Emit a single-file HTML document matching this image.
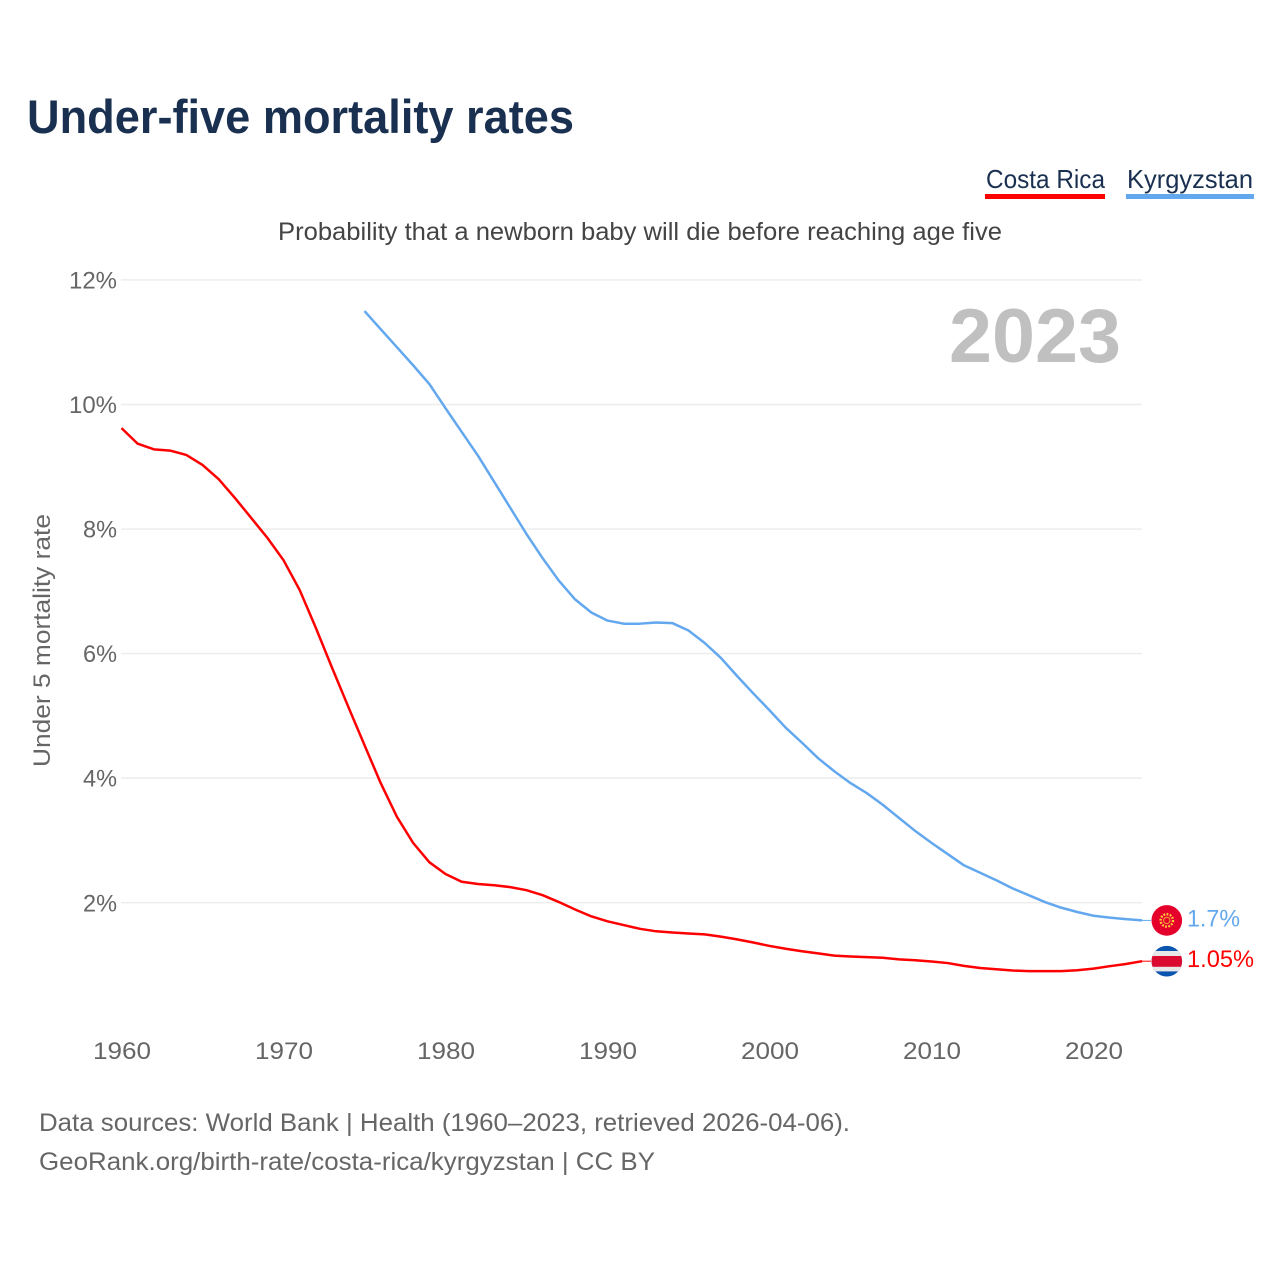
<!DOCTYPE html>
<html lang="en">
<head>
<meta charset="utf-8">
<title>Under-five mortality rates</title>
<style>
  html, body { margin: 0; padding: 0; background: #fff; }
  svg { display: block; font-family: "Liberation Sans", sans-serif; }
</style>
</head>
<body>
<svg id="chart" width="1280" height="1280" viewBox="0 0 1280 1280" xmlns="http://www.w3.org/2000/svg">
  <defs>
    <clipPath id="flag-clip"><circle cx="0" cy="0" r="15.3"></circle></clipPath>
  </defs>
  <rect width="1280" height="1280" fill="#ffffff"></rect>

  <text x="27" y="133" font-size="47" font-weight="700" fill="#1a3050" textLength="547" lengthAdjust="spacingAndGlyphs">Under-five mortality rates</text>

  <g>
    <text x="986" y="188" font-size="26" fill="#1a3050" textLength="119" lengthAdjust="spacingAndGlyphs">Costa Rica</text>
    <rect x="985" y="194" width="120" height="5" fill="#ff0000"></rect>
  </g>
  <g>
    <text x="1127" y="188" font-size="26" fill="#1a3050" textLength="126" lengthAdjust="spacingAndGlyphs">Kyrgyzstan</text>
    <rect x="1126" y="194" width="128" height="5" fill="#63a8ef"></rect>
  </g>

  <text x="278" y="240" font-size="25" fill="#444444" textLength="724" lengthAdjust="spacingAndGlyphs">Probability that a newborn baby will die before reaching age five</text>

  <text transform="translate(50,640.5) rotate(-90)" text-anchor="middle" font-size="24" fill="#666666" textLength="253" lengthAdjust="spacingAndGlyphs">Under 5 mortality rate</text>

  <g id="grid"></g>
  <g id="y-ticks"></g>
  <g id="x-ticks"></g>

  <text x="949" y="362" font-size="76" font-weight="700" fill="#c0c0c0" textLength="172" lengthAdjust="spacingAndGlyphs">2023</text>

  <path id="line-costa-rica" fill="none" stroke="#ff0000" stroke-width="2.5" stroke-linejoin="round"></path>
  <path id="line-kyrgyzstan" fill="none" stroke="#63a8ef" stroke-width="2.5" stroke-linejoin="round"></path>
  <line id="connector-costa-rica" stroke="#ff0000" stroke-width="1"></line>
  <line id="connector-kyrgyzstan" stroke="#63a8ef" stroke-width="1"></line>

  <g id="flag-kyrgyzstan">
    <circle r="15.3" fill="#e4002b"></circle>
    <circle r="6.2" fill="none" stroke="#ffcb3d" stroke-width="2.4" stroke-dasharray="1.8 1.4"></circle>
    <circle r="3.2" fill="none" stroke="#f4a63a" stroke-width="1"></circle>
  </g>
  <g id="flag-costa-rica">
    <g clip-path="url(#flag-clip)">
      <rect x="-16" y="-16" width="32" height="32" fill="#0a55b0"></rect>
      <rect x="-16" y="-10.2" width="32" height="20.4" fill="#e8e8e8"></rect>
      <rect x="-16" y="-5.2" width="32" height="10.8" fill="#da0a30"></rect>
    </g>
  </g>

  <text id="value-kyrgyzstan" x="1187" font-size="24" fill="#63a8ef" textLength="53" lengthAdjust="spacingAndGlyphs"></text>
  <text id="value-costa-rica" x="1187" font-size="24" fill="#ff0000" textLength="67" lengthAdjust="spacingAndGlyphs"></text>

  <text x="39" y="1131" font-size="25" fill="#666666" textLength="811" lengthAdjust="spacingAndGlyphs">Data sources: World Bank | Health (1960–2023, retrieved 2026-04-06).</text>
  <text x="39" y="1170" font-size="25" fill="#666666" textLength="616" lengthAdjust="spacingAndGlyphs">GeoRank.org/birth-rate/costa-rica/kyrgyzstan | CC BY</text>
</svg>

<script>
const costaRicaStartYear = 1960;
const costaRicaValues = [
  9.62, 9.37, 9.28, 9.26, 9.19, 9.03, 8.80, 8.50, 8.18, 7.86,
  7.50, 7.02, 6.41, 5.77, 5.145, 4.53, 3.92, 3.38, 2.96, 2.65,
  2.46, 2.335, 2.30, 2.28, 2.25, 2.20, 2.12, 2.01, 1.89, 1.78,
  1.70, 1.64, 1.58, 1.54, 1.52, 1.505, 1.49, 1.455, 1.41, 1.36,
  1.305, 1.26, 1.22, 1.185, 1.15, 1.135, 1.125, 1.115, 1.09, 1.075,
  1.055, 1.03, 0.985, 0.95, 0.93, 0.91, 0.90, 0.90, 0.90, 0.915,
  0.94, 0.98, 1.015, 1.06
];
const kyrgyzstanStartYear = 1975;
const kyrgyzstanValues = [
  11.50, 11.21, 10.92, 10.63, 10.33, 9.94, 9.56, 9.18, 8.76, 8.34,
  7.92, 7.53, 7.17, 6.87, 6.66, 6.53, 6.48, 6.48, 6.50, 6.49,
  6.37, 6.17, 5.93, 5.64, 5.36, 5.09, 4.81, 4.57, 4.32, 4.11,
  3.92, 3.76, 3.57, 3.36, 3.15, 2.96, 2.78, 2.60, 2.48, 2.36,
  2.23, 2.12, 2.01, 1.92, 1.85, 1.79, 1.76, 1.735, 1.715
];
const yTickValues = [2, 4, 6, 8, 10, 12];
const yTickLabels = ["2%", "4%", "6%", "8%", "10%", "12%"];
const xTickValues = [1960, 1970, 1980, 1990, 2000, 2010, 2020];
const xTickLabels = ["1960", "1970", "1980", "1990", "2000", "2010", "2020"];
const costaRicaValueLabel = "1.05%";
const kyrgyzstanValueLabel = "1.7%";

function xScale(year) { return 121.5 + (year - 1960) * 16.2; }
function yScale(value) { return 1027.2 - value * 62.27; }
function linePath(startYear, values) {
  return values.map(function (v, i) {
    return (i ? 'L' : 'M') + xScale(startYear + i).toFixed(2) + ' ' + yScale(v).toFixed(2);
  }).join(' ');
}
const NS = 'http://www.w3.org/2000/svg';

const gridLayer = document.getElementById('grid');
const yLayer = document.getElementById('y-ticks');
yTickValues.forEach(function (v, i) {
  const rule = document.createElementNS(NS, 'line');
  
  
  rule.setAttribute('x1', 121);
  rule.setAttribute('x2', 1142);
  rule.setAttribute('y1', yScale(v));
  rule.setAttribute('y2', yScale(v));
  rule.setAttribute('stroke', '#ececec');
  rule.setAttribute('stroke-width', 1.4);
  gridLayer.appendChild(rule);

  const label = document.createElementNS(NS, 'text');
  
  
  label.setAttribute('x', 117);
  label.setAttribute('y', yScale(v) + 8.6);
  label.setAttribute('text-anchor', 'end');
  label.setAttribute('font-size', 24);
  label.setAttribute('fill', '#666666');
  label.setAttribute('textLength', (yTickLabels[i].length - 1) * 14 + 20);
  label.setAttribute('lengthAdjust', 'spacingAndGlyphs');
  label.textContent = yTickLabels[i];
  yLayer.appendChild(label);
});

const xLayer = document.getElementById('x-ticks');
xTickValues.forEach(function (v, i) {
  const label = document.createElementNS(NS, 'text');
  
  
  label.setAttribute('x', xScale(v) + 0.5);
  label.setAttribute('y', 1059);
  label.setAttribute('text-anchor', 'middle');
  label.setAttribute('font-size', 24);
  label.setAttribute('fill', '#666666');
  label.setAttribute('textLength', 58);
  label.setAttribute('lengthAdjust', 'spacingAndGlyphs');
  label.textContent = xTickLabels[i];
  xLayer.appendChild(label);
});

document.getElementById('line-costa-rica').setAttribute('d', linePath(costaRicaStartYear, costaRicaValues));
document.getElementById('line-kyrgyzstan').setAttribute('d', linePath(kyrgyzstanStartYear, kyrgyzstanValues));

function placeEnd(key, values, label) {
  const y = yScale(values[values.length - 1]);
  const conn = document.getElementById('connector-' + key);
  conn.setAttribute('x1', 1142);
  conn.setAttribute('x2', 1151);
  conn.setAttribute('y1', y);
  conn.setAttribute('y2', y);
  document.getElementById('flag-' + key).setAttribute('transform', 'translate(1166.8,' + y + ')');
  const text = document.getElementById('value-' + key);
  text.setAttribute('y', y + 6);
  text.textContent = label;
}
placeEnd('costa-rica', costaRicaValues, costaRicaValueLabel);
placeEnd('kyrgyzstan', kyrgyzstanValues, kyrgyzstanValueLabel);
</script>
</body>
</html>
